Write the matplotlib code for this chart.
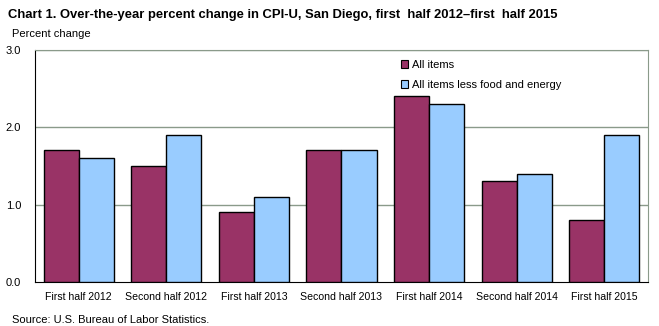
import numpy as np
import matplotlib
matplotlib.use("Agg")
import matplotlib.pyplot as plt
from matplotlib.patches import Patch

plt.rcParams['font.family'] = ['Liberation Sans', 'DejaVu Sans']

# donnees
periods = ["First half 2012", "Second half 2012", "First half 2013", "Second half 2013",
           "First half 2014", "Second half 2014", "First half 2015"]
all_items = [1.7, 1.5, 0.9, 1.7, 2.4, 1.3, 0.8]
core_items = [1.6, 1.9, 1.1, 1.7, 2.3, 1.4, 1.9]
series_names = ["All items", "All items less food and energy"]
yticks = [0.0, 1.0, 2.0, 3.0]

c_all = '#993366'
c_core = '#99ccff'

fig = plt.figure(figsize=(6.59, 3.26), dpi=100)
ax = fig.add_axes([0.0531, 0.135, 0.9302, 0.712])

x = np.arange(len(periods))
w = 0.40
ax.bar(x - w/2, all_items, w, color=c_all, edgecolor='black', linewidth=1, zorder=3)
ax.bar(x + w/2, core_items, w, color=c_core, edgecolor='black', linewidth=1, zorder=3)

# grille
for yv in yticks[1:]:
    ax.axhline(yv, color='#8a9a8a', linewidth=1, zorder=1)

ax.set_xlim(-0.5, len(periods) - 0.5)
ax.set_ylim(0, 3.0)
ax.set_yticks(yticks)
ax.set_yticklabels(["%.1f" % v for v in yticks], fontsize=8)
ax.set_xticks(x)
ax.set_xticklabels(periods, fontsize=7.6)
ax.tick_params(axis='both', length=0, pad=7)
ax.tick_params(axis='y', pad=10)

ax.spines['left'].set_color('black')
ax.spines['bottom'].set_color('black')
ax.spines['top'].set_color('#8a9a8a')
ax.spines['right'].set_color('#8a9a8a')

handles = [Patch(facecolor=c_all, edgecolor='black', linewidth=0.8),
           Patch(facecolor=c_core, edgecolor='black', linewidth=0.8)]
ax.legend(handles, series_names, loc='upper left', bbox_to_anchor=(0.58, 1.0),
          frameon=False, fontsize=8, handlelength=0.7, handleheight=0.7,
          handletextpad=0.3, labelspacing=0.9)

fig.text(0.012, 0.955, "Chart 1. Over-the-year percent change in CPI-U, San Diego, first  half 2012\u2013first  half 2015",
         fontsize=9.4, fontweight='bold', va='center')
fig.text(0.018, 0.895, "Percent change", fontsize=8, va='center')
fig.text(0.018, 0.018, "Source: U.S. Bureau of Labor Statistics.", fontsize=8, va='center')

fig.savefig("out.png", dpi=100)
